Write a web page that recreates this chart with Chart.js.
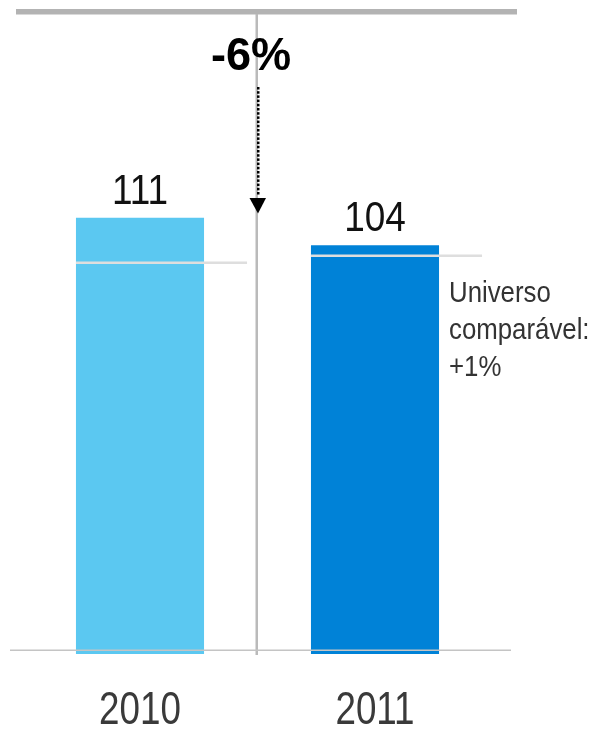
<!DOCTYPE html>
<html lang="pt">
<head>
  <meta charset="UTF-8">
  <title>Variação 2010-2011</title>
  <script src="https://cdn.jsdelivr.net/npm/chart.js"></script>
  <style>
    html, body { margin: 0; padding: 0; background: #fff; }
    canvas { display: block; }
  </style>
</head>
<body>
<canvas id="grafico" width="596" height="736"></canvas>

<script>
  const anos = ["2010", "2011"];
  const valores = [111, 104];
  const comparavel = [99.5, 101.3];   // universo comparável
  const cores = ["#5bc8f1", "#0082d7"];
  const variacao = "-6%";
  const nota = ["Universo", "comparável:", "+1%"];

  const fonte = "'Liberation Sans', Arial, sans-serif";

  // texto estreitado na horizontal (fonte condensada)
  function texto(ctx, t, x, y, escala) {
    ctx.save();
    ctx.translate(x, y);
    ctx.scale(escala, 1);
    ctx.fillText(t, 0, 0);
    ctx.restore();
  }

  // linhas, seta e textos desenhados por cima das barras
  const decoracao = {
    id: "decoracao",
    afterDatasetsDraw(chart) {
      const ctx = chart.ctx;
      const y = chart.scales.y;
      const barras = chart.getDatasetMeta(0).data;
      const zero = y.getPixelForValue(0);
      const meio = (barras[0].x + barras[1].x) / 2 - 1;
      ctx.save();

      // linha de topo
      ctx.fillStyle = "#b3b3b3";
      ctx.fillRect(16, 9, 501, 5.5);

      // separador vertical
      ctx.fillStyle = "#bababa";
      ctx.fillRect(meio - 1, 14, 2.5, zero - 13);

      // linha de base
      ctx.fillStyle = "#c4c4c4";
      ctx.fillRect(10, zero - 4.5, 501, 1.5);

      // universo comparável
      ctx.strokeStyle = "#dedede";
      ctx.lineWidth = 2.5;
      barras.forEach((b, i) => {
        const py = y.getPixelForValue(comparavel[i]);
        ctx.beginPath();
        ctx.moveTo(b.x - b.width / 2, py);
        ctx.lineTo(b.x + b.width / 2 + 43, py);
        ctx.stroke();
      });

      // seta pontilhada
      ctx.fillStyle = "#000";
      for (let py = 87; py < 196; py += 4.2) {
        ctx.fillRect(meio + 0.5, py, 2.5, 2.5);
      }
      ctx.beginPath();
      ctx.moveTo(meio - 7, 198);
      ctx.lineTo(meio + 9.5, 198);
      ctx.lineTo(meio + 1.5, 213.5);
      ctx.closePath();
      ctx.fill();

      // variação
      ctx.textAlign = "center";
      ctx.textBaseline = "alphabetic";
      ctx.fillStyle = "#000";
      ctx.font = "bold 46px " + fonte;
      texto(ctx, variacao, 251, 70, 0.98);

      // valores e anos
      barras.forEach((b, i) => {
        ctx.fillStyle = "#111";
        ctx.font = "42px " + fonte;
        texto(ctx, String(valores[i]), b.x, b.y - 14, 0.88);
        ctx.fillStyle = "#3a3a3a";
        ctx.font = "46px " + fonte;
        texto(ctx, anos[i], b.x, 724, 0.8);
      });

      // nota
      ctx.textAlign = "left";
      ctx.fillStyle = "#333";
      ctx.font = "30px " + fonte;
      nota.forEach((linha, i) => texto(ctx, linha, 449, 302 + i * 37, 0.86));

      ctx.restore();
    }
  };

  new Chart(document.getElementById("grafico"), {
    type: "bar",
    data: {
      labels: anos,
      datasets: [{
        data: valores,
        backgroundColor: cores,
        borderWidth: 0,
        barPercentage: 0.545,
        categoryPercentage: 1
      }]
    },
    options: {
      responsive: false,
      animation: false,
      layout: { padding: { left: 22.5, right: 103.5, top: 14, bottom: 82 } },
      plugins: { legend: { display: false }, tooltip: { enabled: false } },
      scales: {
        x: { display: false },
        y: { display: false, min: 0, max: 162.8 }
      }
    },
    plugins: [decoracao]
  });
</script>
</body>
</html>
